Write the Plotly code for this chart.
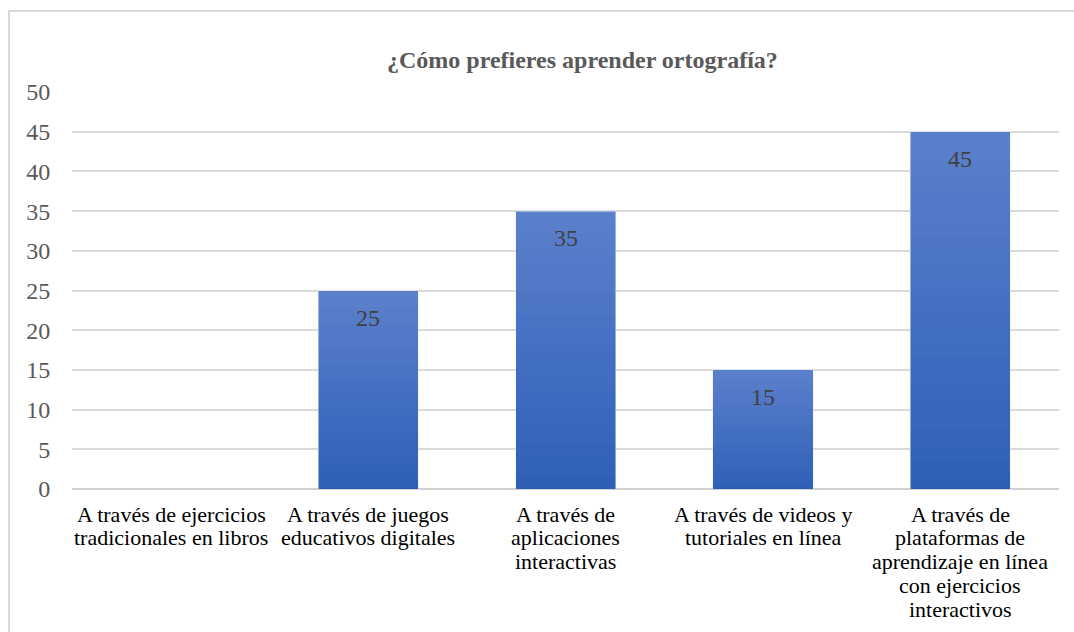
import plotly.graph_objects as go

categories = [
    "A través de ejercicios<br>tradicionales en libros",
    "A través de juegos<br>educativos digitales",
    "A través de<br>aplicaciones<br>interactivas",
    "A través de videos y<br>tutoriales en línea",
    "A través de<br>plataformas de<br>aprendizaje en línea<br>con ejercicios<br>interactivos",
]
values = [0, 25, 35, 15, 45]
y_ticks = [0, 5, 10, 15, 20, 25, 30, 35, 40, 45, 50]
title_text = "¿Cómo prefieres aprender ortografía?"

serif = "Liberation Serif"

# plot area in pixels
L, R, T, B = 72, 15, 92, 143
W, H = 1074, 632
plot_h = H - T - B
plot_w = W - L - R

# vertical gradient of each bar: dark blue at the base, lighter at the top
bottom_rgb = (47, 96, 184)
top_rgb = (91, 128, 203)
n_bands = 24

fig = go.Figure()
for k in range(n_bands):
    t = k / (n_bands - 1)
    rgb = tuple(round(b + (c - b) * t) for b, c in zip(bottom_rgb, top_rgb))
    fig.add_trace(go.Bar(
        x=categories,
        y=[v / n_bands for v in values],
        marker=dict(color="rgb(%d,%d,%d)" % rgb, line=dict(width=0)),
        width=0.508,
        hoverinfo="skip",
    ))

# full-height transparent bar carrying the hover values
fig.add_trace(go.Bar(
    x=categories,
    y=values,
    base=0,
    marker=dict(color="rgba(0,0,0,0)"),
    width=0.508,
    hoverinfo="y",
))

annotations = []

# value labels near the top of each bar
for cat, v in zip(categories, values):
    if v:
        annotations.append(dict(
            text=str(v), x=cat, y=v, xref="x", yref="y",
            xanchor="center", yanchor="middle", yshift=-27,
            showarrow=False,
            font=dict(family=serif, size=24, color="#404040"),
        ))

# category labels, one line each for tighter line spacing
line_gap = 23.8
for cat in categories:
    for i, line in enumerate(cat.split("<br>")):
        annotations.append(dict(
            text=line, x=cat, y=0, xref="x", yref="paper",
            xanchor="center", yanchor="middle",
            yshift=-(25 + i * line_gap),
            showarrow=False,
            font=dict(family=serif, size=22, color="#000000"),
        ))

# chart title
annotations.append(dict(
    text="<b>" + title_text + "</b>",
    xref="paper", yref="paper",
    x=(582 - L) / plot_w, y=1.0 + (T - 60) / plot_h,
    xanchor="center", yanchor="middle",
    showarrow=False,
    font=dict(family=serif, size=24, color="#595959"),
))

fig.update_layout(
    width=W,
    height=H,
    margin=dict(l=L, r=R, t=T, b=B),
    paper_bgcolor="white",
    plot_bgcolor="white",
    showlegend=False,
    barmode="stack",
    xaxis=dict(
        showticklabels=False,
        showgrid=False,
        showline=False,
        ticks="",
    ),
    yaxis=dict(
        range=[0, 50],
        tickvals=y_ticks,
        tickfont=dict(family=serif, size=24, color="#595959"),
        showgrid=True,
        gridcolor="#D9D9D9",
        gridwidth=1.5,
        zeroline=True,
        zerolinecolor="#D0D0D0",
        zerolinewidth=2,
        ticks="outside",
        ticklen=16,
        tickcolor="rgba(0,0,0,0)",
    ),
    annotations=annotations,
    shapes=[dict(
        type="rect",
        xref="paper", yref="paper",
        x0=(9 - L) / plot_w, x1=1.2,
        y0=-0.6, y1=1.0 + (T - 11) / plot_h,
        line=dict(color="#D9D9D9", width=2),
        fillcolor="rgba(0,0,0,0)",
        layer="below",
    )],
)

fig.write_html("out.html")
